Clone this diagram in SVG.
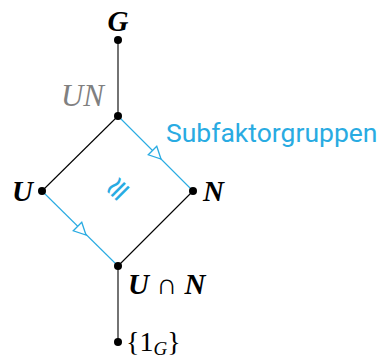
<svg xmlns="http://www.w3.org/2000/svg" width="379" height="358" viewBox="0 0 379 358">
<style>
.e{stroke:#000;stroke-width:1.1;fill:none}
.b{stroke:#29abe2;stroke-width:1.1;fill:none}
.ah{stroke:#29abe2;stroke-width:1.3;fill:#fff;stroke-linejoin:miter}
.d{fill:#000}
.m{font-family:"Liberation Serif",serif;font-style:italic;font-weight:bold;font-size:29px;fill:#000}
.r{font-family:"Liberation Serif",serif;font-size:28px;fill:#000}
</style>
<rect width="379" height="358" fill="#fff"/>
<g id="connectors">
<line class="e" x1="118" y1="40" x2="118" y2="116"/>
<line class="e" x1="118" y1="116" x2="42" y2="191"/>
<line class="b" x1="118" y1="116" x2="193" y2="191"/>
<line class="b" x1="42" y1="191" x2="118" y2="266"/>
<line class="e" x1="193" y1="191" x2="118" y2="266"/>
<line class="e" x1="118" y1="266" x2="118" y2="342"/>
<polygon class="ah" points="0,0 -12,-6 -12,6" transform="translate(161,159) rotate(45)"/>
<polygon class="ah" points="0,0 -12,-6 -12,6" transform="translate(86,235) rotate(45)"/>
<text x="0" y="0" font-family="'DejaVu Serif',serif" font-size="30" fill="#29abe2" text-anchor="middle" dominant-baseline="central" transform="translate(117,189) rotate(-45)">≅</text>
<text x="166" y="142" font-family="Roboto,'Liberation Sans',sans-serif" font-size="26.5" fill="#29abe2">Subfaktorgruppen</text>
</g>
<g id="G"><circle class="d" cx="118" cy="40" r="4"/><text class="m" x="118" y="31" text-anchor="middle">G</text></g>
<g id="UN"><circle class="d" cx="118" cy="116" r="4"/><text class="m" x="104" y="106" text-anchor="end" style="font-weight:normal;font-size:31px;fill:#808080">UN</text></g>
<g id="U"><circle class="d" cx="42" cy="191" r="4"/><text class="m" x="33" y="201" text-anchor="end">U</text></g>
<g id="N"><circle class="d" cx="193" cy="191" r="4"/><text class="m" x="203" y="201">N</text></g>
<g id="UcapN"><circle class="d" cx="118" cy="266" r="4"/><text class="m" x="128" y="294">U<tspan font-style="normal" font-weight="normal"> ∩ </tspan>N</text></g>
<g id="one"><circle class="d" cx="118" cy="342" r="4"/><text class="r" x="126" y="351">{1<tspan font-style="italic" font-size="19" dy="4">G</tspan><tspan dy="-4">}</tspan></text></g>
</svg>
